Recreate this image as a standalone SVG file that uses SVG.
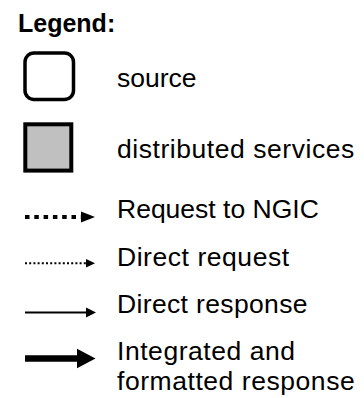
<svg xmlns="http://www.w3.org/2000/svg" width="364" height="398" viewBox="0 0 364 398">
  <style>
    .title { font-family: "Liberation Sans", Arial, sans-serif; font-weight: bold; font-size: 25px; fill: #000; }
    .label { font-family: "Liberation Sans", Arial, sans-serif; font-size: 26.5px; fill: #000; }
    .wide { letter-spacing: 0.55px; }
    .conn { fill: none; stroke: #000; stroke-linecap: butt; }
  </style>
  <defs>
    <marker id="head-dotted-bold" markerUnits="userSpaceOnUse" markerWidth="14" markerHeight="11" refX="0" refY="5.5" orient="auto" overflow="visible">
      <path d="M0,0 L14,5.5 L0,11 Z" fill="#000"/>
    </marker>
    <marker id="head-dotted-fine" markerUnits="userSpaceOnUse" markerWidth="9" markerHeight="8.5" refX="0" refY="4.25" orient="auto" overflow="visible">
      <path d="M0,0 L9,4.25 L0,8.5 Z" fill="#000"/>
    </marker>
    <marker id="head-thin" markerUnits="userSpaceOnUse" markerWidth="10" markerHeight="10" refX="0" refY="5" orient="auto" overflow="visible">
      <path d="M0,0 L10,5 L0,10 Z" fill="#000"/>
    </marker>
    <marker id="head-thick" markerUnits="userSpaceOnUse" markerWidth="18.5" markerHeight="19.5" refX="0" refY="9.75" orient="auto" overflow="visible">
      <path d="M0,0 L18.5,9.75 L0,19.5 Z" fill="#000"/>
    </marker>
  </defs>

  <rect width="364" height="398" fill="#fff"/>

  <text class="title" x="18" y="31.5">Legend:</text>

  <g id="node-source">
    <rect x="25" y="53" width="48.5" height="46.5" rx="9" ry="9" fill="#fff" stroke="#000" stroke-width="3.5"/>
    <text class="label" x="117" y="86.5">source</text>
  </g>

  <g id="node-distributed">
    <rect x="25.3" y="124.3" width="46" height="46.3" fill="#c0c0c0" stroke="#000" stroke-width="4"/>
    <text class="label wide" x="117" y="158.3">distributed services</text>
  </g>

  <g id="connectors">
    <line class="conn" x1="25" y1="217" x2="81" y2="217" stroke-width="4" stroke-dasharray="4.5 4.8" marker-end="url(#head-dotted-bold)"/>
    <line class="conn" x1="25" y1="263.3" x2="86" y2="263.3" stroke-width="2" stroke-dasharray="2 2.2" marker-end="url(#head-dotted-fine)"/>
    <line class="conn" x1="25" y1="312.5" x2="86" y2="312.5" stroke-width="2" marker-end="url(#head-thin)"/>
    <line class="conn" x1="25" y1="358.5" x2="77" y2="358.5" stroke-width="6.5" marker-end="url(#head-thick)"/>
  </g>

  <g id="labels">
    <text class="label" x="117" y="218.3">Request to NGIC</text>
    <text class="label wide" x="117" y="266">Direct request</text>
    <text class="label" x="117" y="313.3" letter-spacing="0.35">Direct response</text>
    <text class="label wide"><tspan x="117" y="359.8">Integrated and</tspan><tspan x="117" y="390.2">formatted response</tspan></text>
  </g>
</svg>
